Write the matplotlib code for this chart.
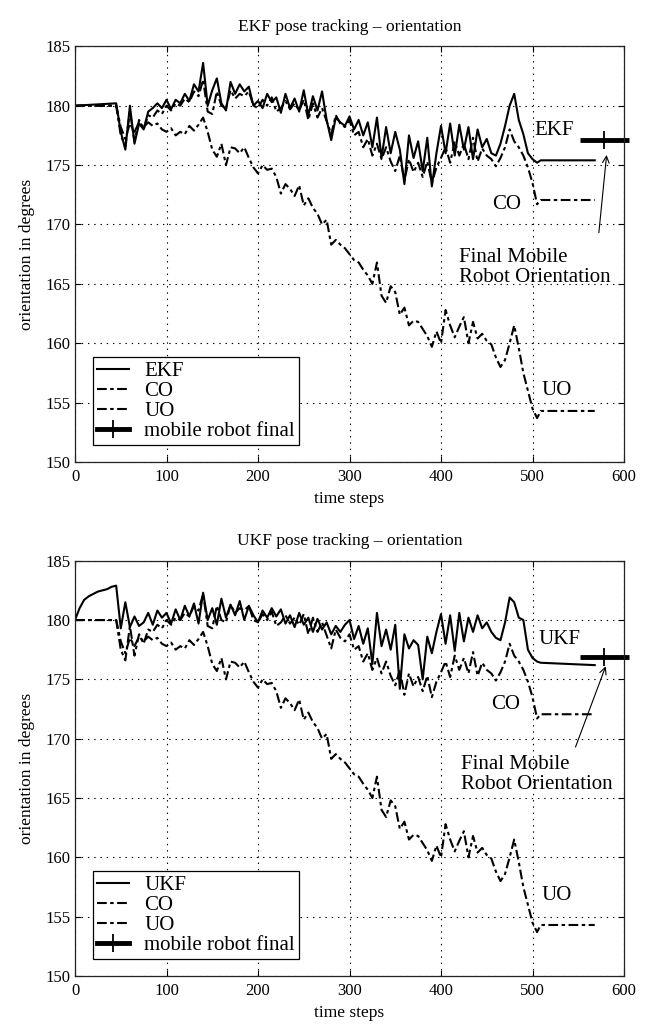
import numpy as np
import matplotlib.pyplot as plt
from matplotlib.lines import Line2D

plt.rcParams['font.family'] = ['Liberation Serif', 'DejaVu Serif']
plt.rcParams['font.size'] = 12
plt.rcParams['lines.scale_dashes'] = False

# time steps of the noisy part (every 5th step), and the flat tail after the stop
steps = np.arange(45, 506, 5)
tail_steps = [509, 568]

ekf = [180.2, 177.8, 176.3, 180.0, 176.8, 178.5, 178.0, 179.5, 179.8, 180.2,
       179.8, 180.5, 179.7, 180.5, 180.2, 181.0, 180.4, 181.8, 181.2, 183.6,
       180.0, 181.3, 182.3, 180.2, 179.6, 182.0, 181.0, 181.8, 181.2, 181.6,
       180.0, 180.4, 179.8, 181.0, 180.3, 180.7, 179.4, 181.0, 179.8, 180.6,
       179.5, 181.3, 179.2, 180.8, 179.6, 181.2, 178.8, 177.1, 179.0, 178.6,
       178.3, 179.1, 178.0, 178.8, 177.5, 178.6, 176.5, 179.0, 175.6, 178.2,
       176.0, 177.8, 176.3, 173.4, 177.5, 175.6, 177.0, 174.5, 177.3, 173.2,
       176.0, 178.3, 176.0, 178.5, 175.8, 178.4, 176.3, 178.2, 175.5, 178.0,
       176.5, 177.2, 176.0, 175.8, 176.8, 178.3, 180.0, 181.0, 178.8, 177.6,
       176.0, 175.5, 175.2]

co = [180.0, 177.5, 176.6, 179.5, 177.0, 178.8, 178.0, 179.2, 179.0, 179.6,
      179.3, 180.0, 179.6, 180.2, 180.0, 180.6, 180.3, 181.2, 180.8, 182.2,
      179.5, 179.3, 181.2, 180.0, 179.8, 181.3, 180.6, 181.0, 180.8, 181.2,
      180.0, 179.8, 180.5, 180.0, 180.7, 179.5, 179.8, 180.4, 179.7, 180.2,
      179.6, 180.5, 178.8, 180.2, 179.0, 179.8, 178.7, 177.6, 179.2, 178.5,
      178.2, 178.8, 177.5, 177.8, 176.5, 177.2, 175.8, 176.8, 175.5, 176.5,
      175.3, 174.5, 175.8, 173.7, 175.5, 174.4, 175.2, 174.0, 175.3, 173.5,
      174.8, 175.6, 176.5, 175.2, 177.0, 175.8, 176.8, 175.5, 177.3, 175.3,
      176.4, 175.8, 175.5, 174.9, 175.6, 176.5, 178.0, 177.0, 176.5, 175.8,
      174.8, 173.5, 171.7]

uo = [180.0, 178.2, 177.2, 178.5, 177.8, 178.6, 178.2, 178.6, 178.3, 178.5,
      178.0, 177.8, 178.1, 177.5, 177.8, 177.6, 178.3, 177.9, 178.4, 179.0,
      177.8, 176.3, 175.7, 176.8, 175.0, 176.5, 176.4, 176.0, 176.5, 175.6,
      174.8, 174.3, 175.0, 174.6, 174.7, 174.0, 172.6, 173.4, 173.0, 172.4,
      173.3, 171.6, 172.2, 171.4, 170.9, 170.0, 170.4, 168.3, 168.7, 168.3,
      168.0, 167.5, 167.0, 166.8, 166.2, 165.7, 165.0, 166.8, 164.0, 163.4,
      164.8, 164.3, 162.4, 163.0, 161.5, 161.9, 161.8, 161.2, 160.6, 159.7,
      161.0, 160.0, 162.8, 161.5, 160.5, 161.4, 162.2, 160.0, 161.8, 160.4,
      160.8, 160.2, 159.9, 158.8, 158.0, 158.6, 160.0, 161.5, 159.6, 157.5,
      156.0, 154.5, 153.7]

ukf_rise_steps = [0, 5, 10, 15, 20, 25, 30, 35, 40, 45]
ukf_rise = [180.0, 181.0, 181.7, 182.0, 182.2, 182.4, 182.5, 182.6, 182.8, 182.9]

ukf = [179.3, 181.5, 179.4, 180.3, 179.5, 179.8, 180.6, 179.6, 180.8,
       180.2, 180.6, 179.7, 180.9, 180.0, 181.2, 180.3, 181.4, 179.7, 182.3,
       180.0, 181.0, 179.6, 181.8, 180.2, 181.3, 180.4, 181.6, 180.0, 181.2,
       180.4, 179.8, 180.8, 180.2, 181.0, 180.3, 180.9, 179.7, 180.4, 179.4,
       180.6, 179.6, 180.2, 179.0, 180.1, 179.2, 179.8, 178.8, 179.5, 179.0,
       179.6, 180.0, 178.4, 179.5, 178.0, 179.3, 176.3, 180.6, 177.8, 179.2,
       177.5, 179.6, 174.2, 178.8, 177.6, 178.3, 177.9, 175.0, 178.6, 177.2,
       179.0, 180.5, 178.0, 180.4, 177.4, 180.6, 178.2, 180.2, 179.0, 180.4,
       179.3, 179.8, 179.0, 178.5, 178.3, 179.8, 181.9, 181.5, 180.2, 180.0,
       177.5, 176.8, 176.5]

ekf_final = [175.4, 175.4]
co_final = [172.06, 172.06]
uo_final = [154.3, 154.3]
ukf_final = [176.4, 176.2]

robot_final_step = 578
robot_final_top = 177.1
robot_final_bottom = 176.9

dash_style = (0, (7, 2.5, 2.5, 2.5))
LW = 1.5


def draw_panel(ax, name, filt_x, filt_y, robot_y, title, labels):
    ax.plot(filt_x, filt_y, color='k', lw=LW, label=name)
    co_x = [0] + list(steps) + tail_steps
    ax.plot(co_x, [180.0] + co + co_final, color='k', lw=LW, linestyle=dash_style, label='CO')
    ax.plot(co_x, [180.0] + uo + uo_final, color='k', lw=LW, linestyle=dash_style, label='UO')

    # final robot orientation: thick bar with a tick
    ax.plot([552, 605], [robot_y, robot_y], color='k', lw=3.5, solid_capstyle='butt', clip_on=False)
    ax.plot([robot_final_step], [robot_y], color='k', marker='+', markersize=13, mew=1.3,
            linestyle='none', clip_on=False)

    for text, x, y in labels['names']:
        ax.text(x, y, text, fontsize=15, va='center', ha='left')
    tx, ty = labels['final_text']
    ax.text(tx, ty, 'Final Mobile\nRobot Orientation', fontsize=15, va='center', ha='left',
            linespacing=1.05)
    ax.annotate('', xy=labels['arrow_head'], xytext=labels['arrow_tail'],
                arrowprops=dict(arrowstyle='->', color='k', lw=0.8, mutation_scale=12,
                                shrinkA=0, shrinkB=0))

    handles = [Line2D([], [], color='k', lw=LW),
               Line2D([], [], color='k', lw=LW, linestyle=dash_style),
               Line2D([], [], color='k', lw=LW, linestyle=dash_style),
               Line2D([], [], color='k', lw=3.5, marker='+', markersize=13, mew=1.3)]
    leg = ax.legend(handles, [name, 'CO', 'UO', 'mobile robot final'], loc='lower left',
                    bbox_to_anchor=(0.033, 0.04), borderaxespad=0, fancybox=False,
                    fontsize=15, handlelength=1.5, handletextpad=0.75, labelspacing=0.02,
                    borderpad=0.2, framealpha=1)
    leg.get_frame().set_edgecolor('k')
    leg.get_frame().set_linewidth(0.9)

    ax.set_xlim(0, 600)
    ax.set_ylim(150, 185)
    ax.set_xticks(range(0, 601, 100))
    ax.set_yticks(range(150, 186, 5))
    ax.grid(True, color='k', linestyle=(0, (1, 3.5)), linewidth=0.8)
    ax.tick_params(direction='in', top=True, right=True, length=4, labelsize=12)
    ax.tick_params(axis='x', pad=5)
    ax.tick_params(axis='y', pad=3)
    for s in ax.spines.values():
        s.set_linewidth(0.9)
        s.set_color('#222222')
    ax.set_title(title, fontsize=12.5, pad=11)
    ax.set_xlabel('time steps', fontsize=12.5, labelpad=4)
    ax.set_ylabel('orientation in degrees', fontsize=12.5, labelpad=8)


fig = plt.figure(figsize=(6.5, 10.29), dpi=100)
ax1 = fig.add_axes([0.1154, 0.551, 0.8446, 0.404])
ax2 = fig.add_axes([0.1154, 0.0515, 0.8446, 0.4036])

ekf_x = [0] + list(steps) + tail_steps
draw_panel(ax1, 'EKF', ekf_x, [180.0] + ekf + ekf_final, robot_final_top,
           'EKF pose tracking \u2013 orientation',
           {'names': [('EKF', 502, 177.9), ('CO', 456, 171.7), ('UO', 510, 156.0)],
            'final_text': (420, 166.4),
            'arrow_tail': (572.5, 169.3), 'arrow_head': (581, 175.85)})

ukf_x = ukf_rise_steps + list(steps[1:]) + tail_steps
draw_panel(ax2, 'UKF', ukf_x, ukf_rise + ukf + ukf_final, robot_final_bottom,
           'UKF pose tracking \u2013 orientation',
           {'names': [('UKF', 507, 178.4), ('CO', 455, 172.85), ('UO', 510, 156.8)],
            'final_text': (422, 167.0),
            'arrow_tail': (547, 169.3), 'arrow_head': (580, 176.1)})

fig.savefig('out.png', dpi=100)
